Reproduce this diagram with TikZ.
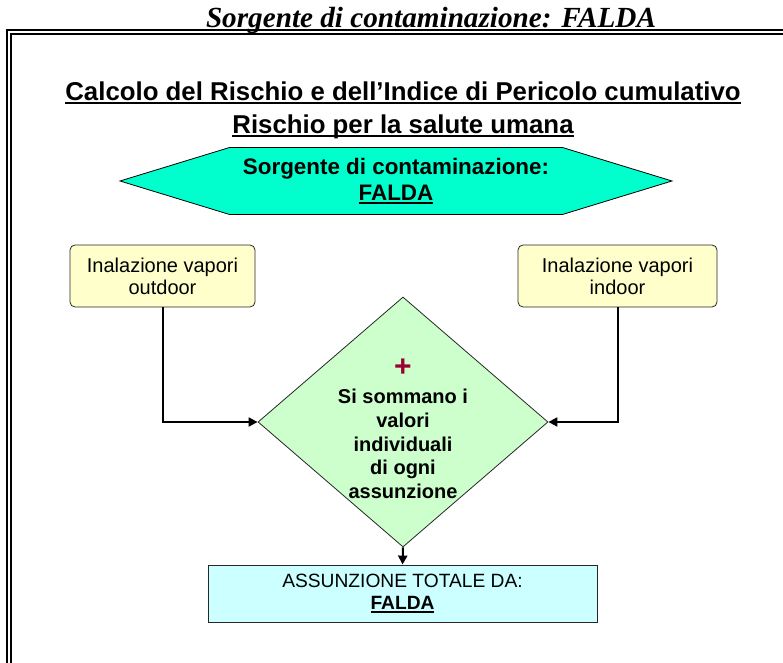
\documentclass[tikz,border=0pt]{standalone}
\usepackage{fontspec}
\setmainfont{Liberation Sans}
\newfontfamily\headfont{Liberation Serif}
\newsavebox{\ulinbox}
\newcommand{\ulin}[1]{\sbox{\ulinbox}{#1}\rlap{\rule[-2pt]{\wd\ulinbox}{0.9pt}}\usebox{\ulinbox}}
\usetikzlibrary{shapes.geometric, shapes.symbols, arrows.meta, positioning, calc}

\definecolor{hexfill}{RGB}{0,255,204}
\definecolor{inyellow}{RGB}{255,255,204}
\definecolor{sumgreen}{RGB}{204,255,204}
\definecolor{totcyan}{RGB}{204,255,255}
\definecolor{plusred}{RGB}{153,0,51}

\begin{document}
\begin{tikzpicture}[
    x=0.5pt, y=-0.5pt,
    >={Triangle[length=4.5pt, width=4.5pt]},
    frameline/.style={line width=1pt, black},
    headline/.style={font=\bfseries\fontsize{12.9}{16.5}\selectfont, align=center, inner sep=0pt},
    srcnode/.style={signal, signal to=west and east, signal pointer angle=34, draw, fill=hexfill, minimum width=276pt, minimum height=33.5pt, inner sep=0pt, font=\bfseries\fontsize{11.2}{13}\selectfont, align=center},
    inbox/.style={draw=black!85, rounded corners=2.5pt, fill=inyellow, minimum height=31pt, inner sep=0pt, font=\fontsize{10}{11}\selectfont, align=center},
    sumnode/.style={diamond, draw=black!85, fill=sumgreen, minimum width=145pt, minimum height=125pt, inner sep=0pt},
    sumtext/.style={font=\bfseries\fontsize{10}{11.8}\selectfont, align=center, inner sep=0pt},
    totbox/.style={draw=black!85, fill=totcyan, minimum width=194.5pt, minimum height=28.5pt, inner sep=0pt, font=\fontsize{9.6}{11}\selectfont, align=center},
    flow/.style={->, line width=1pt, black}
]
    \useasboundingbox (0,0) rectangle (783,663);

    \node[anchor=base, inner sep=0pt] (top_title) at (431,28) {\headfont\bfseries\itshape\fontsize{14.6}{16}\selectfont Sorgente di contaminazione: FALDA};

    \draw[frameline] (7,700) |- (800,30);
    \draw[frameline] (11,700) |- (800,34);

    \node[headline] (title) at (403,110) {\ulin{Calcolo del Rischio e dell’Indice di Pericolo cumulativo}\\\ulin{Rischio per la salute umana}};

    \node[srcnode] (src) at (396,181) {Sorgente di contaminazione:\\\ulin{FALDA}};

    \node[inbox, minimum width=92.5pt] (outdoor) at (162.5,276) {Inalazione vapori\\outdoor};
    \node[inbox, minimum width=99.5pt] (indoor) at (617.5,276) {Inalazione vapori\\indoor};

    \node[sumnode] (sum) at (403,422) {};
    \node[font=\bfseries\fontsize{15}{15}\selectfont, text=plusred, inner sep=0pt] (plus) at (403,368) {+};
    \node[sumtext] (sum_txt) at (403,444) {Si sommano i\\valori\\individuali\\di ogni\\assunzione};

    \node[totbox] (total) at (402.5,593.5) {ASSUNZIONE TOTALE DA:\\\textbf{\ulin{FALDA}}};

    \draw[flow] (outdoor.south) |- (sum.west);
    \draw[flow] (indoor.south) |- (sum.east);
    \draw[flow] (sum.south) -- (total.north);
\end{tikzpicture}
\end{document}
